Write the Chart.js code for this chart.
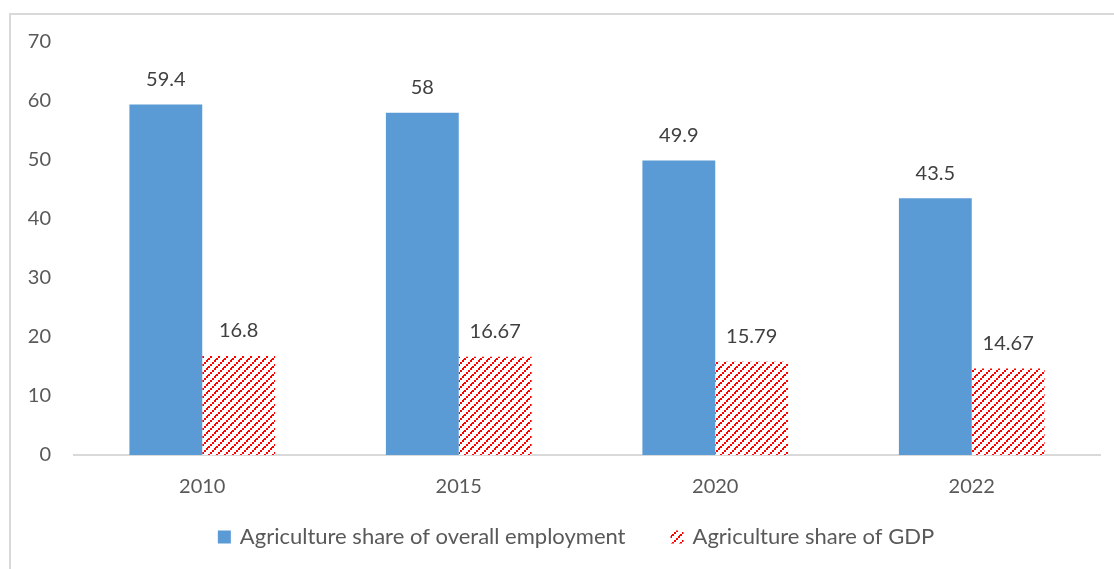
<!DOCTYPE html>
<html>
<head>
<meta charset="utf-8">
<script src="https://cdn.jsdelivr.net/npm/chart.js@4.4.1/dist/chart.umd.min.js"></script>
<style>
  html, body { margin: 0; padding: 0; background: #fff; overflow: hidden; }
  #frame { position: absolute; left: 9px; top: 13px; width: 1200px; height: 700px;
           border-left: 2px solid #d9d9d9; border-top: 2px solid #d9d9d9; }
  #wrap { position: absolute; left: 0; top: 0; width: 1114px; height: 569px; }
</style>
</head>
<body>
<div id="frame"></div>
<div id="wrap"><canvas id="chart"></canvas></div>
<script>
// Chart values
const years = ['2010', '2015', '2020', '2022'];
const employmentShare = [59.4, 58, 49.9, 43.5];
const gdpShare = [16.8, 16.67, 15.79, 14.67];
const yTicks = [0, 10, 20, 30, 40, 50, 60, 70];

const fontFamily = 'Lato, "Open Sans", sans-serif';

// Red diagonal hatch like the Excel "wide upward diagonal" fill
function makeHatch() {
    const c = document.createElement('canvas');
    c.width = 8; c.height = 8;
    const g = c.getContext('2d');
    g.fillStyle = '#ffffff';
    g.fillRect(0, 0, 8, 8);
    g.fillStyle = '#ff0000';
    for (let i = 0; i < 8; i += 2) {
        g.fillRect(i, 6 - i, 2, 2);
    }
    g.fillRect(7, 7, 1, 1);
    return g.createPattern(c, 'repeat');
}
const hatch = makeHatch();

// Value labels above each bar
const valueLabels = {
    id: 'valueLabels',
    afterDatasetsDraw(chart) {
        const ctx = chart.ctx;
        ctx.save();
        ctx.font = '20px ' + fontFamily;
        ctx.fillStyle = '#404040';
        ctx.textAlign = 'center';
        ctx.textBaseline = 'middle';
        chart.data.datasets.forEach((ds, di) => {
            chart.getDatasetMeta(di).data.forEach((bar, i) => {
                ctx.fillText(String(ds.data[i]), bar.x, bar.y - 25);
            });
        });
        ctx.restore();
    }
};

// Legend drawn by hand so the item spacing matches Excel
const bottomLegend = {
    id: 'bottomLegend',
    afterDraw(chart) {
        const ctx = chart.ctx;
        ctx.save();
        ctx.font = '22px ' + fontFamily;
        ctx.textBaseline = 'middle';
        const box = 13, gap = 9, between = 45;
        const items = chart.data.datasets.map(ds => ({
            text: ds.label, fill: ds.backgroundColor,
            w: box + gap + ctx.measureText(ds.label).width
        }));
        const total = items.reduce((s, it) => s + it.w, 0) + between * (items.length - 1);
        let x = 576 - total / 2;
        const y = 537;
        items.forEach(it => {
            ctx.fillStyle = it.fill;
            ctx.fillRect(x, y - box / 2, box, box);
            ctx.fillStyle = '#595959';
            ctx.fillText(it.text, x + box + gap, y);
            x += it.w + between;
        });
        ctx.restore();
    }
};

const ctx = document.getElementById('chart');
new Chart(ctx.getContext('2d'), {
    type: 'bar',
    data: {
        labels: years,
        datasets: [{
            label: 'Agriculture share of overall employment',
            data: employmentShare,
            backgroundColor: '#5b9bd5',
            categoryPercentage: 0.568,
            barPercentage: 1.0
        }, {
            label: 'Agriculture share of GDP',
            data: gdpShare,
            backgroundColor: hatch,
            categoryPercentage: 0.568,
            barPercentage: 1.0
        }]
    },
    options: {
        responsive: true,
        maintainAspectRatio: false,
        animation: false,
        layout: { padding: { left: 0, right: 14, top: 42, bottom: 50 } },
        scales: {
            x: {
                grid: { display: false, drawTicks: false },
                border: { color: '#d9d9d9', width: 2 },
                ticks: { color: '#595959', font: { size: 20, family: fontFamily }, padding: 20 }
            },
            y: {
                min: 0, max: 70,
                afterBuildTicks(scale) { scale.ticks = yTicks.map(v => ({ value: v })); },
                afterFit(scale) { scale.width = 74; },
                grid: { display: false, drawTicks: false },
                border: { display: false },
                ticks: { color: '#595959', font: { size: 20, family: fontFamily }, padding: 23 }
            }
        },
        plugins: {
            legend: { display: false },
            tooltip: { enabled: false }
        }
    },
    plugins: [valueLabels, bottomLegend]
});
</script>
</body>
</html>
